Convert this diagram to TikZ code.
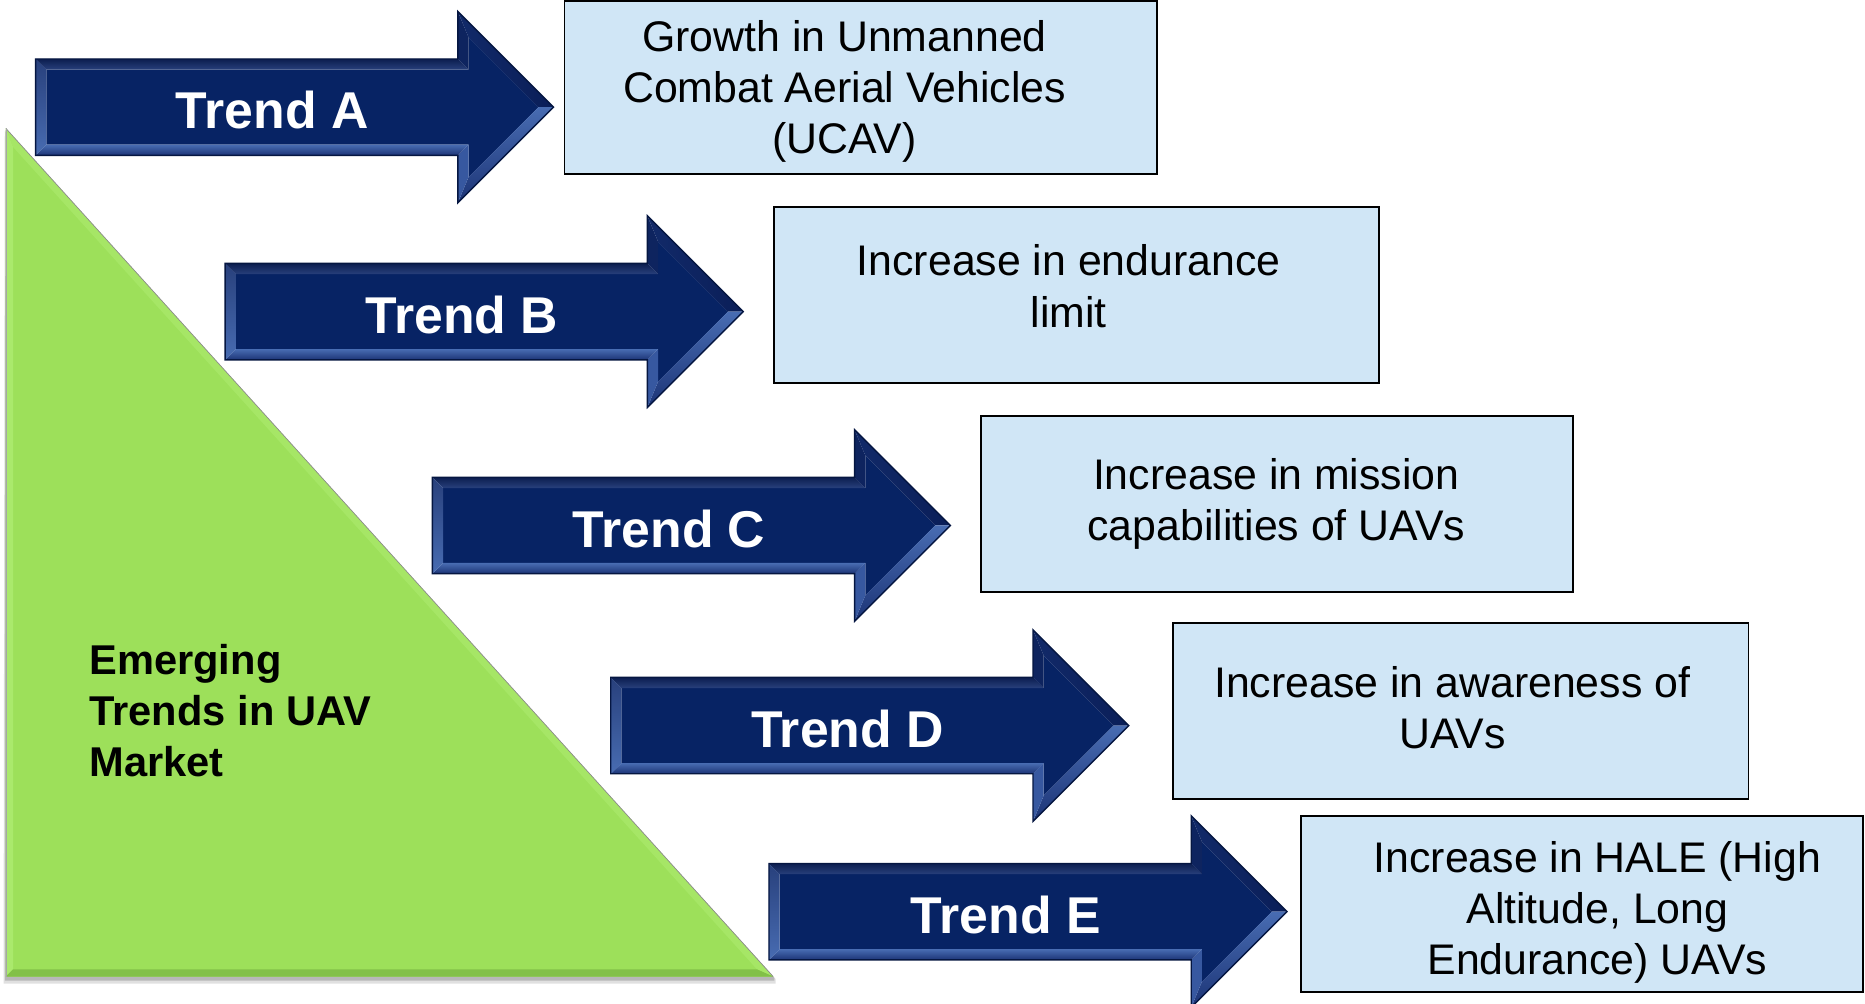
\documentclass[tikz,border=0pt]{standalone}
\usepackage{fontspec}
\setmainfont{Liberation Sans}
\definecolor{arrface}{RGB}{7,35,100}
\definecolor{arredge}{RGB}{5,22,65}
\definecolor{arrtopA}{RGB}{12,30,80}
\definecolor{arrtopB}{RGB}{40,64,124}
\definecolor{arrleft}{RGB}{20,46,110}
\definecolor{arrbotA}{RGB}{72,108,178}
\definecolor{arrbotB}{RGB}{28,52,118}
\definecolor{arrhbu}{RGB}{14,36,95}
\definecolor{arrslantA}{RGB}{10,30,88}
\definecolor{arrslantB}{RGB}{18,42,105}
\definecolor{arrhbl}{RGB}{55,88,160}
\definecolor{trifill}{RGB}{157,224,90}
\definecolor{trilight}{RGB}{170,233,108}
\definecolor{tridark}{RGB}{130,192,72}
\definecolor{boxfill}{RGB}{208,230,246}
\tikzset{
  infobox/.style={draw=black, line width=1.5pt, fill=boxfill, inner sep=0pt},
  boxtext/.style={font=\fontsize{36}{43}\selectfont, text=black, inner sep=0pt, anchor=base},
  trendlabel/.style={font=\fontsize{43.5}{50}\selectfont\bfseries, text=white, inner sep=0pt, anchor=base},
  emtext/.style={font=\fontsize{35}{43}\selectfont\bfseries, text=black, inner sep=0pt, anchor=base west}
}
\newcommand{\trendarrow}[4]{%
\begin{scope}[shift={(#1,#2)}]
  \coordinate (o1) at (0,-40.5);
  \coordinate (o2) at (355,-40.5);
  \coordinate (o3) at (355,-80.5);
  \coordinate (o4) at (435.5,0);
  \coordinate (o5) at (355,80.5);
  \coordinate (o6) at (355,40.5);
  \coordinate (o7) at (0,40.5);
  \coordinate (i1) at (9,-31.5);
  \coordinate (i2) at (364,-31.5);
  \coordinate (i3) at (364,-58.8);
  \coordinate (i4) at (422.8,0);
  \coordinate (i5) at (364,58.8);
  \coordinate (i6) at (364,31.5);
  \coordinate (i7) at (9,31.5);
  \fill[arrface] (i1)--(i2)--(i3)--(i4)--(i5)--(i6)--(i7)--cycle;
  \shade[top color=arrtopA, bottom color=arrtopB] (o1)--(o2)--(i2)--(i1)--cycle;
  \fill[arrhbu] (o2)--(o3)--(i3)--(i2)--cycle;
  \shade[left color=arrslantB, right color=arrslantA] (o3)--(o4)--(i4)--(i3)--cycle;
  \shade[top color=arrbotA, bottom color=arrbotB] (o4)--(o5)--(i5)--(i4)--cycle;
  \fill[arrhbl] (o5)--(o6)--(i6)--(i5)--cycle;
  \shade[top color=arrbotA, bottom color=arrbotB] (o6)--(o7)--(i7)--(i6)--cycle;
  \shade[top color=arrtopB, bottom color=arrbotA] (o7)--(o1)--(i1)--(i7)--cycle;
  \draw[arredge, line width=1.2pt, line join=miter] (o1)--(o2)--(o3)--(o4)--(o5)--(o6)--(o7)--cycle;
  \node[trendlabel] (#4) at (199,18.3) {#3};
\end{scope}}
\begin{document}
\begin{tikzpicture}[x=1pt,y=-1pt]
\useasboundingbox (0,0) rectangle (1568,844);
\clip (0,0) rectangle (1568,844);
\fill[white] (0,0) rectangle (1568,844);

% green triangle with shadow and bevel
\fill[black, opacity=0.12] (4,110) -- (652,823) -- (652,827) -- (3,827) -- cycle;
\fill[black, opacity=0.18] (4.5,109) -- (651,822) -- (651,824.5) -- (4,824.5) -- cycle;
\fill[trifill] (5,108) -- (650,821) -- (5,821) -- cycle;
\fill[trilight] (5,108) -- (11,123.6) -- (11,815) -- (5,821) -- cycle;
\fill[trilight, opacity=0.7] (5,108) -- (650,821) -- (636.5,815) -- (11,123.6) -- cycle;
\fill[tridark] (5,821) -- (11,815) -- (636.5,815) -- (650,821) -- cycle;
\draw[black!45, line width=0.6pt] (5,108) -- (650,821);
\draw[black!35, line width=0.6pt] (5,108) -- (5,821);

\node[emtext] (em) at (75,566.7) {\begin{tabular}[t]{@{}l@{}}Emerging\\Trends in UAV\\Market\end{tabular}};

% arrows
\trendarrow{29.9}{90.1}{Trend A}{tA}
\trendarrow{189.3}{262}{Trend B}{tB}
\trendarrow{363.5}{441.8}{Trend C}{tC}
\trendarrow{513.5}{610}{Trend D}{tD}
\trendarrow{646.5}{766.5}{Trend E}{tE}

% boxes
\node[infobox, minimum width=498.2pt, minimum height=145.7pt] (bA) at (723.7,73.65) {};
\node[infobox, minimum width=508.7pt, minimum height=147.4pt] (bB) at (905.05,248) {};
\node[infobox, minimum width=497.7pt, minimum height=147.7pt] (bC) at (1073.55,423.65) {};
\node[infobox, minimum width=484.1pt, minimum height=147.8pt] (bD) at (1228.05,597.9) {};
\node[infobox, minimum width=472.6pt, minimum height=147.8pt] (bE) at (1330.2,759.9) {};

\node[boxtext] (xA) at (710,43) {\begin{tabular}[t]{@{}c@{}}Growth in Unmanned\\Combat Aerial Vehicles\\(UCAV)\end{tabular}};
\node[boxtext] (xB) at (898.5,232) {\begin{tabular}[t]{@{}c@{}}Increase in endurance\\limit\end{tabular}};
\node[boxtext] (xC) at (1073,411.4) {\begin{tabular}[t]{@{}c@{}}Increase in mission\\capabilities of UAVs\end{tabular}};
\node[boxtext] (xD) at (1221,586) {\begin{tabular}[t]{@{}c@{}}Increase in awareness of\\UAVs\end{tabular}};
\node[boxtext] (xE) at (1343,733.5) {\begin{tabular}[t]{@{}c@{}}Increase in HALE (High\\Altitude, Long\\Endurance) UAVs\end{tabular}};
\end{tikzpicture}
\end{document}
